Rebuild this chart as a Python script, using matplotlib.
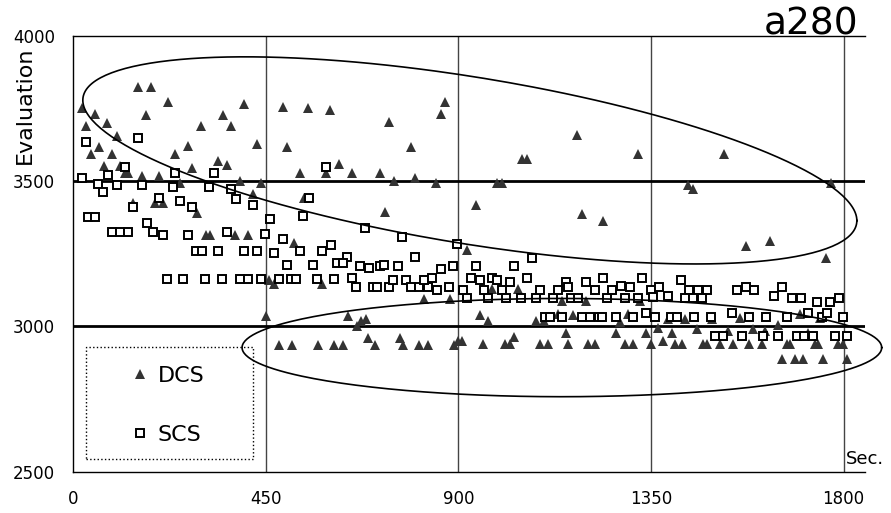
"""Scatter of DCS / SCS evaluations over time for the a280 instance."""

import matplotlib

matplotlib.use("Agg")
import matplotlib.pyplot as plt
import numpy as np
from matplotlib.patches import Rectangle

# DCS: filled triangles (seconds, evaluation)
dcs_sec = [
    152, 182, 222, 400, 21, 51, 171, 350, 30, 80, 299, 369, 103, 429, 61, 268,
    42, 91, 238, 72, 110, 339, 360, 278, 121, 128, 161, 201, 250, 390, 439, 140,
    191, 210, 290, 420, 310, 320, 379, 409, 517, 490, 550, 601, 870, 859, 738, 500,
    789, 621, 530, 591, 651, 717, 750, 799, 849, 540, 728, 1177, 1048, 1060, 1319, 1520,
    990, 1002, 1436, 1448, 1770, 941, 1188, 1238, 1571, 1628, 920, 1758,
    458, 469, 581, 451, 642, 663, 672, 684, 820, 880, 978, 1039, 1142, 1198, 1324, 950,
    969, 1081, 1100, 1133, 1168, 1277, 1296, 1389, 1429, 1492, 1557, 1698, 1744, 1151, 1268, 1338,
    1366, 1399, 1457, 1529, 1588, 1616, 1646, 1716,
    481, 511, 572, 610, 631, 689, 705, 764, 771, 808, 829, 890, 899, 908, 957, 1009,
    1020, 1030, 1090, 1109, 1156, 1203, 1219, 1289, 1308, 1350, 1378, 1406, 1422, 1471, 1480, 1511,
    1541, 1578, 1609, 1667, 1674, 1733, 1740, 1786, 1798, 1656, 1686, 1705, 1751, 1807,
]
dcs_eval = [
    3823, 3823, 3771, 3764, 3750, 3730, 3726, 3726, 3689, 3699, 3689, 3689, 3654, 3627, 3616, 3620,
    3592, 3592, 3592, 3551, 3551, 3568, 3554, 3544, 3527, 3527, 3516, 3516, 3492, 3499, 3492, 3426,
    3426, 3426, 3391, 3457, 3316, 3316, 3316, 3316, 3288, 3754, 3751, 3744, 3771, 3730, 3702, 3616,
    3616, 3558, 3527, 3527, 3527, 3527, 3499, 3509, 3492, 3443, 3395, 3657, 3575, 3575, 3592, 3592,
    3492, 3492, 3488, 3471, 3492, 3419, 3388, 3361, 3278, 3292, 3264, 3236,
    3161, 3147, 3147, 3037, 3037, 3002, 3019, 3026, 3095, 3095, 3130, 3130, 3089, 3089, 3089, 3040,
    3019, 3019, 3019, 3043, 3040, 3016, 3043, 3026, 3026, 3026, 3030, 3043, 3030, 2978, 2978, 2978,
    2995, 2978, 2992, 2985, 2992, 2985, 3006, 2978,
    2937, 2937, 2937, 2937, 2937, 2961, 2937, 2961, 2937, 2937, 2937, 2937, 2951, 2951, 2940, 2940,
    2940, 2965, 2940, 2940, 2940, 2940, 2940, 2940, 2940, 2940, 2951, 2940, 2940, 2940, 2940, 2940,
    2940, 2940, 2940, 2940, 2940, 2940, 2940, 2940, 2940, 2888, 2888, 2888, 2888, 2888,
]

# SCS: open squares (seconds, evaluation)
scs_sec = [
    152, 30, 121, 82, 238, 329, 591, 21, 58, 70, 103, 161, 233, 318, 369, 380,
    420, 201, 250, 278, 140, 551, 537, 35, 51, 460, 172, 187, 210, 91, 110, 128,
    269, 360, 448, 490, 682, 768, 287, 301, 339, 400, 430, 469, 530, 581, 602, 640,
    799, 896, 500, 560, 616,
    220, 257, 308, 348, 390, 409, 439, 481, 509, 521, 570, 610,
    1072, 630, 670, 691, 717, 726, 759, 859, 887, 941, 1030,
    651, 661, 700, 710, 738, 747, 778, 789, 808, 829, 820, 838, 850, 878, 911, 920,
    929, 950, 960, 969, 978, 990, 1001, 1011, 1020, 1046, 1060, 1081, 1090, 1121, 1133, 1151,
    1156, 1163, 1179, 1198, 1219, 1238, 1247,
    1102, 1114, 1142, 1188, 1207, 1228,
    1329, 1420, 1280, 1301, 1258, 1350, 1368, 1438, 1459, 1480, 1550, 1571, 1590, 1637, 1656, 1679,
    1700, 1737, 1768, 1789, 1289, 1319, 1354, 1389, 1429, 1448, 1469,
    1235, 1268, 1308, 1338, 1359, 1396, 1410, 1450, 1490, 1539, 1578, 1618, 1667, 1716, 1749, 1761,
    1798,
    1499, 1518, 1562, 1611, 1646, 1691, 1707, 1728, 1779, 1807,
]
scs_eval = [
    3647, 3633, 3547, 3520, 3527, 3527, 3547, 3509, 3489, 3464, 3485, 3485, 3478, 3478, 3471, 3437,
    3416, 3440, 3430, 3409, 3412, 3443, 3381, 3375, 3375, 3368, 3354, 3323, 3313, 3323, 3323, 3323,
    3316, 3323, 3319, 3302, 3337, 3309, 3261, 3261, 3258, 3261, 3258, 3254, 3261, 3261, 3281, 3240,
    3240, 3285, 3212, 3212, 3219,
    3164, 3164, 3164, 3164, 3164, 3164, 3164, 3164, 3164, 3164, 3164, 3164,
    3236, 3219, 3209, 3202, 3209, 3212, 3209, 3199, 3209, 3209, 3209,
    3168, 3137, 3137, 3137, 3137, 3161, 3161, 3137, 3137, 3137, 3161, 3168, 3126, 3137, 3126, 3099,
    3168, 3161, 3126, 3099, 3168, 3161, 3126, 3099, 3154, 3099, 3168, 3099, 3126, 3099, 3126, 3151,
    3134, 3099, 3099, 3154, 3126, 3168, 3099,
    3033, 3033, 3033, 3033, 3033, 3033,
    3168, 3161, 3140, 3134, 3126, 3126, 3137, 3126, 3126, 3126, 3126, 3134, 3126, 3106, 3134, 3099,
    3099, 3085, 3085, 3099, 3099, 3099, 3102, 3106, 3099, 3099, 3099,
    3033, 3033, 3033, 3047, 3033, 3033, 3033, 3033, 3033, 3047, 3033, 3033, 3033, 3047, 3033, 3047,
    3033,
    2968, 2968, 2968, 2968, 2968, 2968, 2968, 2968, 2968, 2968,
]

x_ticks = [0, 450, 900, 1350, 1800]
y_ticks = [2500, 3000, 3500, 4000]

# hand-drawn ellipses: centre plus two conjugate semi-axis vectors (data units)
upper_ellipse = {"centre": (927, 3571), "u": (904, -207), "v": (0, 290)}
lower_ellipse = {"centre": (1142, 2927), "u": (747, 0), "v": (0, 169)}


def draw_ellipse(ax, centre, u, v):
    t = np.linspace(0, 2 * np.pi, 300)
    xs = centre[0] + u[0] * np.cos(t) + v[0] * np.sin(t)
    ys = centre[1] + u[1] * np.cos(t) + v[1] * np.sin(t)
    ax.plot(xs, ys, color="black", linewidth=1.2, clip_on=False, zorder=4)


def main():
    fig = plt.figure(figsize=(8.91, 5.13), dpi=100)
    ax = fig.add_axes([0.0819, 0.0805, 0.8889, 0.8499])

    ax.set_xlim(0, 1850)
    ax.set_ylim(2500, 4000)
    ax.spines["right"].set_visible(False)
    for side in ("left", "top", "bottom"):
        ax.spines[side].set_linewidth(1.0)

    for x in x_ticks[1:]:
        ax.axvline(x, color="#444444", linewidth=1.0, zorder=1)
    for y in (3000, 3500):
        ax.axhline(y, color="black", linewidth=2.0, zorder=1)

    ax.plot(dcs_sec, dcs_eval, linestyle="none", marker="^", markersize=7.5,
            color="#333333", markeredgewidth=0, label="DCS", zorder=2)
    ax.plot(scs_sec, scs_eval, linestyle="none", marker="s", markersize=6,
            markerfacecolor="white", markeredgecolor="black", markeredgewidth=1.4,
            label="SCS", zorder=3)

    draw_ellipse(ax, **upper_ellipse)
    draw_ellipse(ax, **lower_ellipse)

    ax.set_xticks(x_ticks)
    ax.set_yticks(y_ticks)
    ax.tick_params(length=0, labelsize=12, pad=13)

    ax.text(-0.061, 0.841, "Evaluation", transform=ax.transAxes, rotation=90,
            fontsize=16, ha="center", va="center")
    fig.text(0.963, 0.932, "a280", fontsize=27, ha="right", va="baseline")
    ax.text(0.976, 0.017, "Sec.", transform=ax.transAxes, fontsize=13,
            ha="left", va="baseline")

    frame = Rectangle((0.0164, 0.029), 0.2108, 0.257, transform=ax.transAxes,
                      fill=False, linestyle=":", linewidth=1.0, edgecolor="black",
                      zorder=5)
    ax.add_patch(frame)
    ax.legend(loc="upper left", bbox_to_anchor=(0.0707, 0.242), frameon=False,
              borderpad=0, borderaxespad=0, handlelength=1.0, handletextpad=0.3,
              labelspacing=1.75, fontsize=16, markerscale=1.0)

    fig.savefig("out.png", dpi=100)
    plt.close(fig)


if __name__ == "__main__":
    main()
